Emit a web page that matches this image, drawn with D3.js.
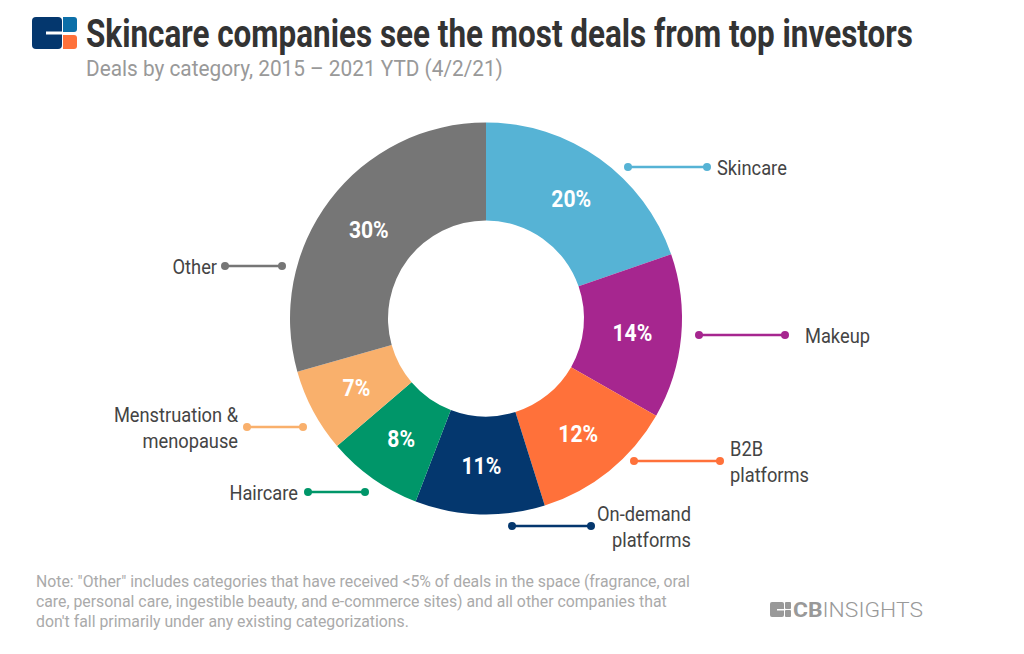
<!DOCTYPE html>
<html>
<head>
<meta charset="utf-8">
<script src="https://cdn.jsdelivr.net/npm/d3@7"></script>
<style>
  body { margin: 0; background: #fff; }
  text { font-family: Roboto, "Noto Sans", sans-serif; }
</style>
</head>
<body>
<script>
const w = 1024;
const h = 654;

// data (share of deals, %)
const categories = ["Skincare", "Makeup", "B2B platforms", "On-demand platforms", "Haircare", "Menstruation & menopause", "Other"];
const shares = [19.7, 13.6, 11.9, 10.7, 7.9, 6.9, 29.4];
const shareLabels = ["20%", "14%", "12%", "11%", "8%", "7%", "30%"];
const labelLines = [["Skincare"], ["Makeup"], ["B2B", "platforms"], ["On-demand", "platforms"], ["Haircare"], ["Menstruation &", "menopause"], ["Other"]];
const colors = ["#56B3D5", "#A6268F", "#FF713A", "#04376E", "#009669", "#F9B06C", "#767676"];

const noteLines = [
  "Note: \"Other\" includes categories that have received <5% of deals in the space (fragrance, oral",
  "care, personal care, ingestible beauty, and e-commerce sites) and all other companies that",
  "don't fall primarily under any existing categorizations."
];

// where the leader lines and their labels sit
const leaderLayout = [
  {x1: 628, x2: 707, y: 167, tx: 717, anchor: "start"},
  {x1: 699, x2: 785, y: 335, tx: 805, anchor: "start"},
  {x1: 634, x2: 720, y: 461, tx: 730, anchor: "start"},
  {x1: 512, x2: 591, y: 526, tx: 691, anchor: "end"},
  {x1: 308, x2: 365, y: 492, tx: 298, anchor: "end"},
  {x1: 247, x2: 303, y: 427, tx: 238, anchor: "end"},
  {x1: 225, x2: 282, y: 266, tx: 217, anchor: "end"}
];

const cx = 486, cy = 318.5, rOuter = 196, rInner = 98;

const svg = d3.select("body")
  .append("svg")
  .attr("width", w)
  .attr("height", h);

// text helper - squeezes Roboto to look like the condensed face
const txt = (parent, x, y, s, o) => {
  const t = parent.append("text")
    .attr("transform", `translate(${x},${y}) scale(${o.k || 0.87},1)`)
    .attr("text-anchor", o.anchor || "start")
    .attr("font-size", o.size)
    .attr("font-weight", o.weight || 400)
    .attr("fill", o.fill)
    .text(s);
  if (o.width) {
    const tw = t.node().getComputedTextLength();
    t.attr("transform", `translate(${x},${y}) scale(${o.width / tw},1)`);
  }
  if (o.dy) t.attr("dy", o.dy);
  return t;
};

// logo top left
const logo = svg.append("g");
logo.append("rect").attr("x", 32).attr("y", 17).attr("width", 30).attr("height", 32).attr("rx", 4).attr("fill", "#04376E");
logo.append("rect").attr("x", 46).attr("y", 31.5).attr("width", 17).attr("height", 3).attr("fill", "#fff");
logo.append("rect").attr("x", 63).attr("y", 17).attr("width", 14).attr("height", 15).attr("rx", 3).attr("fill", "#0C6FA8");
logo.append("rect").attr("x", 63).attr("y", 35).attr("width", 14).attr("height", 14).attr("rx", 3).attr("fill", "#FF713A");
logo.append("rect").attr("x", 63).attr("y", 17).attr("width", 6).attr("height", 15).attr("fill", "#0C6FA8");
logo.append("rect").attr("x", 63).attr("y", 35).attr("width", 6).attr("height", 14).attr("fill", "#FF713A");

txt(svg, 86, 47, "Skincare companies see the most deals from top investors", {size: 38, weight: 700, fill: "#333", width: 827});
txt(svg, 86, 76, "Deals by category, 2015 \u2013 2021 YTD (4/2/21)", {size: 22, fill: "#999", width: 417});

// donut
const pie = d3.pie().sort(null).value(d => d);
const arc = d3.arc().innerRadius(rInner).outerRadius(rOuter);
const arcs = pie(shares);

const g = svg.append("g").attr("transform", `translate(${cx},${cy})`);

g.selectAll("path")
  .data(arcs)
  .enter().append("path")
  .attr("d", arc)
  .attr("fill", (d, i) => colors[i]);

arcs.forEach((d, i) => {
  const [px, py] = arc.centroid(d);
  txt(g, px, py, shareLabels[i], {size: 24, weight: 700, fill: "#fff", anchor: "middle", dy: "0.36em", k: 0.88});
});

// leader lines + labels
const leaders = svg.append("g");
leaderLayout.forEach((l, i) => {
  leaders.append("line")
    .attr("x1", l.x1).attr("x2", l.x2)
    .attr("y1", l.y).attr("y2", l.y)
    .attr("stroke", colors[i])
    .attr("stroke-width", 2.5);
  [l.x1, l.x2].forEach(x => {
    leaders.append("circle").attr("cx", x).attr("cy", l.y).attr("r", 4).attr("fill", colors[i]);
  });
  const lines = labelLines[i];
  lines.forEach((s, j) => {
    const ly = l.y + (j - (lines.length - 1) / 2) * 26;
    txt(leaders, l.tx, ly, s, {size: 21, fill: "#444", anchor: l.anchor, dy: "0.36em", k: 0.87});
  });
});

// footnote - first line sets the squeeze for all three
const note = svg.append("g");
const first = txt(note, 36, 587, noteLines[0], {size: 17, fill: "#aaa", width: 654});
const noteK = 654 / first.node().getComputedTextLength();
noteLines.slice(1).forEach((s, i) => {
  txt(note, 36, 587 + (i + 1) * 20, s, {size: 17, fill: "#aaa", k: noteK});
});

// CB Insights mark bottom right
const cb = svg.append("g");
cb.append("rect").attr("x", 770).attr("y", 602).attr("width", 14).attr("height", 15).attr("rx", 2).attr("fill", "#999");
cb.append("rect").attr("x", 785).attr("y", 602).attr("width", 6).attr("height", 7).attr("rx", 1).attr("fill", "#999");
cb.append("rect").attr("x", 785).attr("y", 610).attr("width", 6).attr("height", 7).attr("rx", 1).attr("fill", "#999");
cb.append("rect").attr("x", 777).attr("y", 609).attr("width", 8).attr("height", 1.5).attr("fill", "#fff");
const cbt = txt(cb, 793, 617, "", {size: 21, fill: "#999", k: 1});
cbt.append("tspan").attr("font-weight", 700).text("CB");
cbt.append("tspan").attr("font-weight", 300).text("INSIGHTS");
cbt.attr("transform", `translate(793,617) scale(${130 / cbt.node().getComputedTextLength()},1)`);
</script>
</body>
</html>
